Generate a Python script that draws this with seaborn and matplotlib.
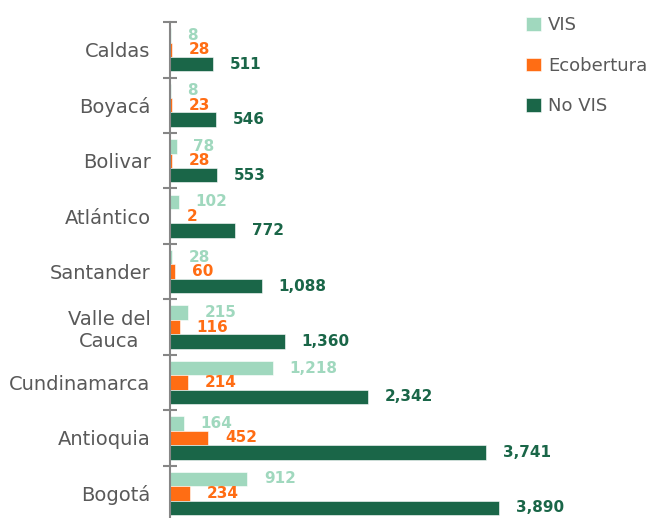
import matplotlib
matplotlib.use('Agg')
import matplotlib.pyplot as plt
import numpy as np
import pandas as pd
import seaborn as sns

sns.set_theme(style='white')
plt.rcParams['font.family'] = ['DejaVu Sans']

# datos
departamentos = ['Caldas', 'Boyacá', 'Bolivar', 'Atlántico', 'Santander',
                 'Valle del\nCauca', 'Cundinamarca', 'Antioquia', 'Bogotá']
vis = [8, 8, 78, 102, 28, 215, 1218, 164, 912]
ecobertura = [28, 23, 28, 2, 60, 116, 214, 452, 234]
no_vis = [511, 546, 553, 772, 1088, 1360, 2342, 3741, 3890]

series = ['VIS', 'Ecobertura', 'No VIS']
colores = ['#A0D8BE', '#FF6D14', '#1A6648']

df = pd.DataFrame({'Departamento': departamentos, 'VIS': vis,
                   'Ecobertura': ecobertura, 'No VIS': no_vis})
df = df.melt(id_vars='Departamento', var_name='Serie', value_name='Valor')

fig = plt.figure(figsize=(6.59, 5.18), dpi=100)
ax = fig.add_axes([170 / 659, -0.006, 470 / 659, 0.9633])

sns.barplot(data=df, y='Departamento', x='Valor', hue='Serie',
            order=departamentos, hue_order=series, palette=colores,
            saturation=1, orient='h', width=0.78, edgecolor='white',
            linewidth=0.4, legend=True, ax=ax)

for cont, col in zip(ax.containers, colores):
    ax.bar_label(cont, labels=[f'{v:,.0f}' for v in cont.datavalues],
                 padding=12, color=col, fontsize=11, fontweight='bold')

ax.set_xlim(0, 5556)
ax.set_ylim(len(departamentos) - 0.5, -0.5)
ax.set_xlabel('')
ax.set_ylabel('')
ax.set_xticks([])
for s in ['top', 'right', 'bottom']:
    ax.spines[s].set_visible(False)
ax.spines['left'].set_color('#868686')
ax.spines['left'].set_linewidth(1.5)

ax.set_yticks(np.arange(len(departamentos) + 1) - 0.5, minor=True)
ax.tick_params(axis='y', which='minor', direction='inout', length=10,
               width=1.5, color='#868686', left=True)
ax.tick_params(axis='y', which='major', length=0, pad=14,
               labelsize=14, labelcolor='#595959')
for lab in ax.get_yticklabels():
    lab.set_multialignment('center')

ax.legend(loc='upper left', bbox_to_anchor=(510 / 659, 1.0),
          bbox_transform=fig.transFigure, frameon=False, fontsize=13,
          labelcolor='#595959', handlelength=0.8, handleheight=0.8,
          handletextpad=0.4, labelspacing=1.25)

fig.savefig('out.png', dpi=100)
